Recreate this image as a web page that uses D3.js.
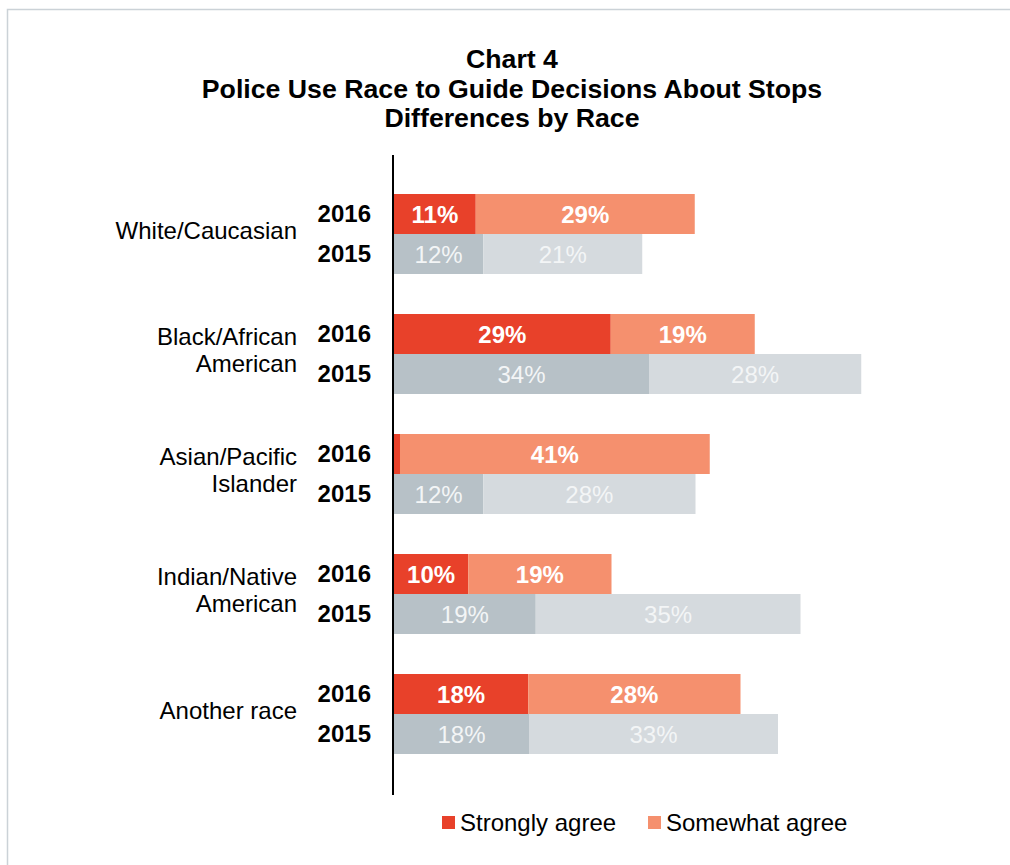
<!DOCTYPE html>
<html>
<head>
<meta charset="utf-8">
<script src="https://cdn.jsdelivr.net/npm/d3@7"></script>
<style>
  html, body { margin: 0; padding: 0; background: #fff; }
  svg { display: block; font-family: "Liberation Sans", Arial, sans-serif; }
</style>
</head>
<body>
<svg id="chart" width="1010" height="865"></svg>
<script>
// ---- data ----
const categories = ["White/Caucasian", "Black/African American", "Asian/Pacific Islander", "Indian/Native American", "Another race"];
const categoryLines = [["White/Caucasian"], ["Black/African", "American"], ["Asian/Pacific", "Islander"], ["Indian/Native", "American"], ["Another race"]];
const years = ["2016", "2015"];
const strongly2016 = [10.9, 28.9, 0.8, 9.9, 17.9];
const somewhat2016 = [29.2, 19.2, 41.3, 19.1, 28.3];
const strongly2015 = [11.9, 34.0, 11.9, 18.9, 18.0];
const somewhat2015 = [21.2, 28.3, 28.3, 35.3, 33.2];
const seriesNames = ["Strongly agree", "Somewhat agree"];
const titleLines = ["Chart 4", "Police Use Race to Guide Decisions About Stops", "Differences by Race"];

// ---- styles ----
const colors = {
  "2016": ["#E8412A", "#F5906E"],
  "2015": ["#B7C1C7", "#D5DADE"]
};
const labelColor = { "2016": "#ffffff", "2015": "#F3F5F6" };
const labelWeight = { "2016": "bold", "2015": "normal" };

const svg = d3.select("#chart");

// frame
svg.append("rect").attr("x", 7.5).attr("y", 9.5).attr("width", 1200).attr("height", 1000)
  .attr("fill", "none").attr("stroke", "#CBD2D7").attr("stroke-width", 1.5);

// title
svg.append("g").selectAll("text").data(titleLines).join("text")
  .attr("x", 512).attr("y", (d, i) => 68 + i * 29.5)
  .attr("text-anchor", "middle").attr("font-size", 26.7).attr("font-weight", "bold").attr("fill", "#000")
  .text(d => d);

// scales
const x = d3.scaleLinear().domain([0, 100]).range([394, 1144]);
const yGroup = d3.scaleBand().domain(categories).range([174, 774]).paddingInner(1 / 3).paddingOuter(1 / 6);
const yYear = d3.scaleBand().domain(years).range([0, yGroup.bandwidth()]);

// build rows
const rows = [];
categories.forEach((c, i) => {
  rows.push({ cat: c, year: "2016", vals: [strongly2016[i], somewhat2016[i]] });
  rows.push({ cat: c, year: "2015", vals: [strongly2015[i], somewhat2015[i]] });
});

const segs = [];
rows.forEach(r => {
  let acc = 0;
  r.vals.forEach((v, k) => {
    segs.push({ cat: r.cat, year: r.year, k, x0: acc, x1: acc + v, v });
    acc += v;
  });
});

const gBars = svg.append("g");
gBars.selectAll("rect").data(segs).join("rect")
  .attr("x", d => x(d.x0))
  .attr("width", d => x(d.x1) - x(d.x0))
  .attr("y", d => yGroup(d.cat) + yYear(d.year))
  .attr("height", yYear.bandwidth())
  .attr("fill", d => colors[d.year][d.k]);

gBars.selectAll("text").data(segs.filter(d => d.v >= 3)).join("text")
  .attr("x", d => (x(d.x0) + x(d.x1)) / 2)
  .attr("y", d => yGroup(d.cat) + yYear(d.year) + yYear.bandwidth() / 2 + 8.6)
  .attr("text-anchor", "middle")
  .attr("font-size", 24)
  .attr("font-weight", d => labelWeight[d.year])
  .attr("fill", d => labelColor[d.year])
  .text(d => Math.round(d.v) + "%");

// year labels
svg.append("g").selectAll("text").data(rows).join("text")
  .attr("x", 371)
  .attr("y", d => yGroup(d.cat) + yYear(d.year) + yYear.bandwidth() / 2 + 7.6)
  .attr("text-anchor", "end").attr("font-size", 24).attr("font-weight", "bold").attr("fill", "#000")
  .text(d => d.year);

// category labels
const gCat = svg.append("g");
categories.forEach((c, i) => {
  const lines = categoryLines[i];
  const lh = 27;
  const cy = yGroup(c) + yGroup.bandwidth() / 2 - 4;
  const t = gCat.append("text").attr("text-anchor", "end").attr("font-size", 24).attr("fill", "#000");
  lines.forEach((ln, j) => {
    t.append("tspan").attr("x", 297)
      .attr("y", cy + (j - (lines.length - 1) / 2) * lh + 8.6)
      .text(ln);
  });
});

// axis line
svg.append("line").attr("x1", 393).attr("x2", 393).attr("y1", 155).attr("y2", 795)
  .attr("stroke", "#000").attr("stroke-width", 2);

// legend
const legendX = [442, 648];
const gLeg = svg.append("g");
seriesNames.forEach((s, i) => {
  gLeg.append("rect").attr("x", legendX[i]).attr("y", 816).attr("width", 13).attr("height", 13)
    .attr("fill", colors["2016"][i]);
  gLeg.append("text").attr("x", legendX[i] + 18).attr("y", 830.5)
    .attr("font-size", 24).attr("fill", "#000").text(s);
});
</script>
</body>
</html>
